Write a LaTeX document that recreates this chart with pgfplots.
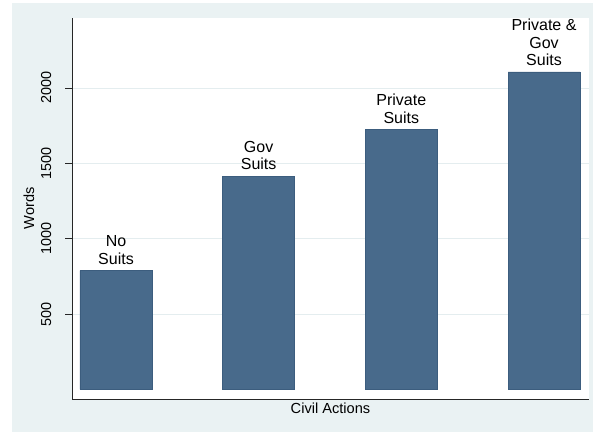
\documentclass[border=0pt]{standalone}
\usepackage{pgfplots}
\pgfplotsset{compat=1.18}
\usepackage{fontspec}
\setmainfont{Liberation Sans}
\definecolor{bgc}{HTML}{EAF2F3}
\definecolor{barc}{HTML}{486A8B}
\definecolor{bare}{HTML}{3C5D7E}
\definecolor{gridc}{HTML}{E4EDEF}
\begin{document}
\begin{tikzpicture}[x=1pt,y=1pt]
\useasboundingbox (0,0) rectangle (593,432);
\fill[bgc] (12,0) rectangle (593,429);
\begin{axis}[
  at={(72pt,33pt)}, anchor=south west,
  scale only axis, width=517pt, height=381pt,
  xmin=0.6917, xmax=4.3154, ymin=-64, ymax=2464,
  axis x line*=bottom, axis y line*=left,
  axis line style={line width=0.9pt, black!85},
  axis background/.style={fill=white},
  xtick=\empty,
  ytick={500,1000,1500,2000},
  ymajorgrids, grid style={gridc, line width=0.8pt},
  tick align=outside, major tick length=6.7pt,
  tick style={black!85, line width=0.8pt},
  yticklabel style={rotate=90, anchor=base, inner sep=0pt, font=\fontsize{14.4}{16}\selectfont},
  yticklabel shift=14.2pt,
  /pgf/number format/assume math mode=true,
  /pgf/number format/1000 sep={},
  xlabel={Civil Actions}, ylabel={Words},
  xlabel style={at={(axis description cs:0.5,0)}, anchor=base, inner sep=0pt, yshift=-14.3pt, font=\fontsize{14.6}{16}\selectfont},
  ylabel style={inner sep=0pt, font=\fontsize{14.6}{16}\selectfont},
  ylabel shift=6.6pt,
  ybar, bar width=72pt,
  clip=false,
]
\addplot[fill=barc, draw=bare, line width=0.6pt] coordinates {(1,787) (2,1415) (3,1725) (4,2106)};
\begin{scope}[every node/.style={anchor=south, align=center, inner sep=0pt, yshift=6pt, font=\fontsize{16}{17.5}\selectfont}]
\node at (axis cs:1,787) {No\\Suits};
\node at (axis cs:2,1415) {Gov\\Suits};
\node at (axis cs:3,1725) {Private\\Suits};
\node at (axis cs:4,2106) {Private \&\\Gov\\Suits};
\end{scope}
\end{axis}
\end{tikzpicture}
\end{document}
